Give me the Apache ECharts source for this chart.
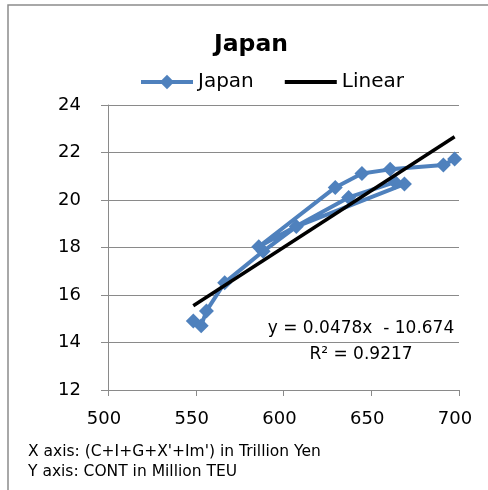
<!DOCTYPE html>
<html>
<head>
<meta charset="utf-8">
<script src="https://cdn.jsdelivr.net/npm/echarts@6/dist/echarts.min.js"></script>
<style>
  html, body { margin: 0; padding: 0; background: #fff; }
  #chart { width: 488px; height: 490px; }
</style>
</head>
<body>
<div id="chart"></div>
<script>
// Final demand (C+I+G+X'+Im'), trillion yen, in series order
const gdpTrillionYen = [548.6, 553.1, 556.1, 566.5, 588.4, 607.3, 668.9, 663.6, 637.1, 585.9, 629.5, 644.7, 660.8, 691.1, 697.5];
// Container throughput, million TEU, same order
const contMillionTeu = [14.91, 14.71, 15.33, 16.52, 17.84, 18.88, 20.67, 20.75, 20.11, 18.03, 20.53, 21.12, 21.29, 21.47, 21.73];

// Least-squares fit reported on the chart
const trendSlope = 0.0478;
const trendIntercept = -10.674;
const trendR2 = 0.9217;

const xTicks = [500, 550, 600, 650, 700];
const yTicks = [12, 14, 16, 18, 20, 22, 24];

const points = gdpTrillionYen.map((x, i) => [x, contMillionTeu[i]]);
const xLo = Math.min(...gdpTrillionYen);
const xHi = Math.max(...gdpTrillionYen);
const trendPoints = [xLo, xHi].map(x => [x, trendSlope * x + trendIntercept]);

const FONT = '"DejaVu Sans", sans-serif';
const GRID_GREY = '#8a8a8a';
const BLUE = '#4F81BD';

const chart = echarts.init(document.getElementById('chart'), null, { renderer: 'canvas' });
chart.setOption({
  animation: false,
  backgroundColor: '#fff',
  textStyle: { fontFamily: FONT, color: '#000' },
  title: {
    text: 'Japan',
    left: 246,
    top: 28,
    textAlign: 'center',
    textStyle: { fontFamily: FONT, fontSize: 23.5, fontWeight: 'bold', color: '#000' }
  },
  legend: {
    left: 134,
    top: 67,
    itemWidth: 52,
    itemHeight: 18,
    itemGap: 31,
    symbolKeepAspect: true,
    lineStyle: { width: 4 },
    textStyle: { fontFamily: FONT, fontSize: 20, color: '#000', padding: [0, 0, 0, 0] },
    data: [
      { name: 'Japan' },
      { name: 'Linear', icon: 'path://M0,0L52,0L52,4L0,4Z' }
    ]
  },
  grid: { left: 108, right: 29, top: 105, bottom: 100, containLabel: false },
  xAxis: {
    type: 'value',
    min: xTicks[0],
    max: xTicks[xTicks.length - 1],
    interval: 50,
    axisLine: { show: true, lineStyle: { color: GRID_GREY, width: 1 } },
    axisTick: { show: true, length: 6, lineStyle: { color: GRID_GREY } },
    splitLine: { show: false },
    axisLabel: { margin: 20, fontSize: 18, fontFamily: FONT, color: '#000', padding: [0, 8, 0, 0] }
  },
  yAxis: {
    type: 'value',
    min: yTicks[0],
    max: yTicks[yTicks.length - 1],
    interval: 2,
    axisLine: { show: true, lineStyle: { color: GRID_GREY, width: 1 } },
    axisTick: { show: true, length: 7, lineStyle: { color: GRID_GREY } },
    splitLine: { show: true, lineStyle: { color: GRID_GREY, width: 1 } },
    axisLabel: { margin: 27, fontSize: 18, fontFamily: FONT, color: '#000' }
  },
  series: [
    {
      name: 'Japan',
      type: 'line',
      data: points,
      symbol: 'diamond',
      symbolSize: 15,
      showAllSymbol: true,
      color: BLUE,
      itemStyle: { color: BLUE },
      lineStyle: { color: BLUE, width: 4 },
      z: 2
    },
    {
      name: 'Linear',
      type: 'line',
      data: trendPoints,
      symbol: 'none',
      color: '#000',
      itemStyle: { color: '#000' },
      lineStyle: { color: '#000', width: 3.5 },
      z: 3
    }
  ],
  graphic: [
    {
      type: 'rect',
      shape: { x: 8, y: 5, width: 600, height: 600 },
      style: { fill: 'none', stroke: '#8c8c8c', lineWidth: 1.5 },
      silent: true,
      z: 0
    },
    {
      type: 'text',
      x: 361, y: 329,
      style: {
        text: 'y = ' + trendSlope.toFixed(4) + 'x  - ' + Math.abs(trendIntercept).toFixed(3),
        font: '17px ' + FONT, fill: '#000', align: 'center', verticalAlign: 'middle'
      },
      z: 10
    },
    {
      type: 'text',
      x: 361, y: 355,
      style: {
        text: 'R\u00B2 = ' + trendR2.toFixed(4),
        font: '17px ' + FONT, fill: '#000', align: 'center', verticalAlign: 'middle'
      },
      z: 10
    },
    {
      type: 'text',
      x: 28, y: 452,
      style: {
        text: "X axis: (C+I+G+X'+Im') in Trillion Yen",
        font: '15.5px ' + FONT, fill: '#000', align: 'left', verticalAlign: 'middle'
      }
    },
    {
      type: 'text',
      x: 28, y: 472,
      style: {
        text: 'Y axis: CONT in Million TEU',
        font: '15.5px ' + FONT, fill: '#000', align: 'left', verticalAlign: 'middle'
      }
    }
  ]
});
</script>
</body>
</html>
